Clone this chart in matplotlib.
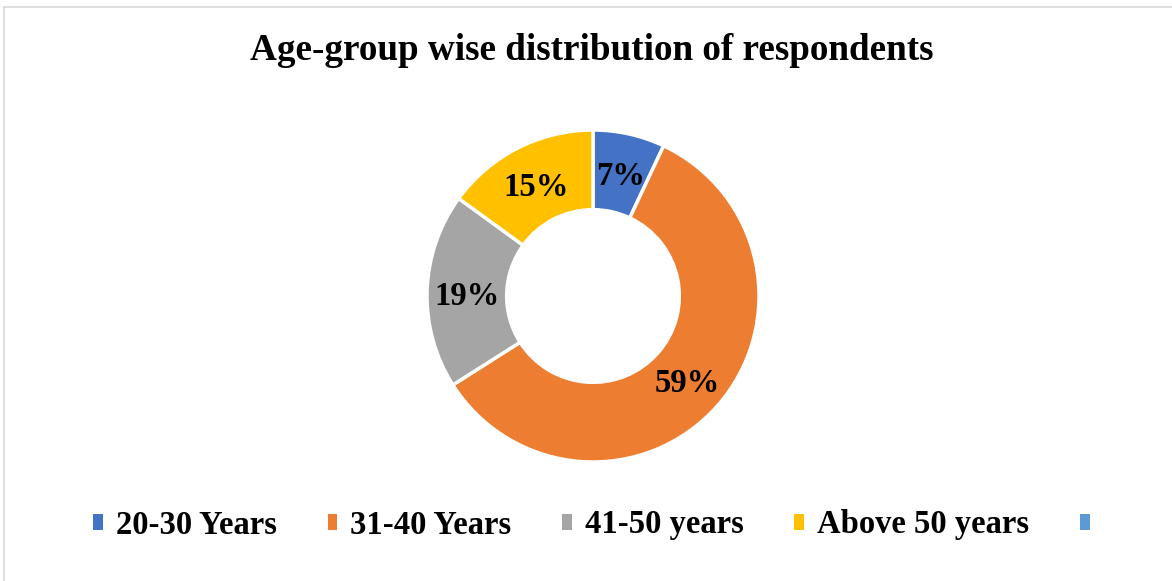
import matplotlib
matplotlib.use("Agg")
import matplotlib.pyplot as plt
from matplotlib.patches import Patch
from matplotlib.lines import Line2D
from matplotlib.transforms import offset_copy

categories = ["20-30 Years", "31-40 Years", "41-50 years", "Above 50 years"]
values = [7, 59, 19, 15]
colors = ["#4472C4", "#ED7D31", "#A5A5A5", "#FFC000"]
extra_legend_color = "#5B9BD5"
title = "Age-group wise distribution of respondents"

plt.rcParams['font.family'] = ['Liberation Serif', 'DejaVu Serif']

W, H = 1172, 581
fig = plt.figure(figsize=(W / 100, H / 100), dpi=100)

# chart border (light gray), partially visible
fig.add_artist(Line2D([3.5 / W, 3.5 / W], [0, 1 - 6.5 / H], color="#D9D9D9", lw=1.2, transform=fig.transFigure))
fig.add_artist(Line2D([3.5 / W, 1], [1 - 6.5 / H, 1 - 6.5 / H], color="#D9D9D9", lw=1.2, transform=fig.transFigure))

cx, cy, r = 593, 296, 166
ax = fig.add_axes([(cx - r) / W, (H - cy - r) / H, 2 * r / W, 2 * r / H])
wedges, texts, autotexts = ax.pie(
    values, colors=colors, startangle=90, counterclock=False, radius=1,
    autopct=lambda p: f"{p:.0f}%", pctdistance=0.76,
    wedgeprops=dict(width=0.48, edgecolor="white", linewidth=2.5),
    textprops=dict(fontsize=23.5, fontweight="bold", color="black"))
ax.set_xlim(-1, 1)
ax.set_ylim(-1, 1)
ax.set_aspect("equal")
ax.axis("off")
for t in autotexts:
    t.set_transform(offset_copy(ax.transData, fig=fig, x=0, y=-4, units="dots"))

fig.text(592 / W, 1 - 51 / H, title, ha="center", va="center", fontsize=26.7, fontweight="bold")

handles = [Patch(facecolor=c, edgecolor="none") for c in colors] + [Patch(facecolor=extra_legend_color, edgecolor="none")]
labels = categories + [""]
leg = fig.legend(handles, labels, loc="center", bbox_to_anchor=(598 / W, 1 - 525 / H), ncol=5,
                 frameon=False, prop=dict(size=23.5, weight="bold"),
                 handlelength=0.3, handleheight=0.38, handletextpad=0.4, columnspacing=1.55)

fig.savefig("out.png", dpi=100)
